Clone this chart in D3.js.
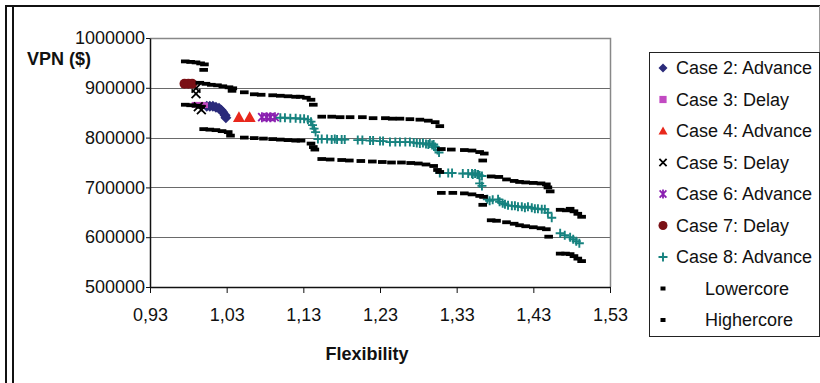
<!DOCTYPE html>
<html>
<head>
<meta charset="utf-8">
<script src="https://cdn.jsdelivr.net/npm/d3@7"></script>
<style>
  body { margin: 0; background: #fff; }
  svg { display: block; font-family: "Liberation Sans", Arial, sans-serif; }
</style>
</head>
<body>
<svg id="chart" width="820" height="383"></svg>
<script>
// values: [flexibility, VPN]
const case2 = [[1.004, 863000], [1.008, 863000], [1.012, 863000], [1.016, 861000], [1.020, 859000], [1.023, 855000], [1.025, 851000], [1.028, 845000], [1.029, 840000]];
const case3 = [[0.988, 866000], [0.993, 866000], [0.998, 866000], [1.002, 865000]];
const case4 = [[1.046, 841000], [1.060, 841000]];
const case5 = [[0.990, 899000], [0.990, 888000], [0.993, 862000], [0.997, 856000]];
const case6 = [[1.076, 841000], [1.082, 841000], [1.087, 841000], [1.093, 841000]];
const case7 = [[0.975, 908000], [0.980, 908000], [0.985, 908000]];
const case8 = [
  [1.100, 840000], [1.106, 840000], [1.113, 839000], [1.120, 839000], [1.126, 838000], [1.131, 838000], [1.136, 836000],
  [1.140, 832000], [1.142, 825000], [1.144, 818000], [1.146, 811000],
  [1.149, 797000], [1.154, 797000], [1.161, 797000], [1.167, 796000], [1.171, 797000], [1.174, 796000], [1.180, 796000], [1.184, 796000],
  [1.201, 795000], [1.207, 795000], [1.217, 794000], [1.221, 794000], [1.230, 793000], [1.234, 793000],
  [1.243, 791000], [1.250, 791000], [1.256, 791000], [1.263, 791000], [1.269, 791000],
  [1.274, 790000], [1.278, 789000], [1.282, 788000], [1.286, 789000], [1.290, 787000], [1.293, 786000], [1.295, 788000], [1.298, 785000], [1.300, 786000],
  [1.302, 781000], [1.305, 775000], [1.307, 770000],
  [1.308, 729000], [1.319, 729000], [1.324, 729000], [1.338, 728000], [1.345, 728000], [1.350, 728000], [1.351, 726000],
  [1.354, 728000], [1.357, 726000], [1.358, 726000], [1.360, 724000], [1.363, 723000], [1.360, 708000], [1.363, 703000],
  [1.370, 676000], [1.373, 673000], [1.377, 675000], [1.384, 676000], [1.386, 671000], [1.390, 668000], [1.393, 666000],
  [1.397, 664000], [1.402, 663000], [1.406, 663000], [1.410, 661000], [1.415, 661000], [1.419, 659000], [1.423, 661000],
  [1.428, 659000], [1.432, 657000], [1.436, 657000], [1.441, 656000], [1.445, 656000], [1.449, 649000], [1.454, 639000],
  [1.465, 608000], [1.471, 604000], [1.478, 600000], [1.482, 596000], [1.486, 592000], [1.490, 588000]
];
const lowercore = [
  [0.976, 866000], [0.983, 865000], [0.990, 864000], [0.996, 862000],
  [1.000, 817000], [1.008, 816000], [1.016, 815000], [1.024, 813000], [1.032, 811000], [1.035, 804000],
  [1.053, 800000], [1.066, 799000], [1.078, 798000], [1.090, 797000], [1.100, 796000], [1.110, 795000], [1.120, 794000], [1.127, 794000],
  [1.140, 788000], [1.143, 781000], [1.145, 776000],
  [1.154, 757000], [1.165, 756000], [1.180, 755000], [1.190, 754000], [1.205, 753000], [1.220, 752000],
  [1.233, 751000], [1.245, 750000], [1.258, 750000], [1.270, 749000], [1.280, 748000], [1.290, 746000], [1.300, 743000],
  [1.305, 735000], [1.308, 731000],
  [1.310, 689000], [1.325, 689000], [1.340, 688000], [1.350, 686000], [1.360, 683000], [1.365, 681000], [1.364, 665000],
  [1.375, 634000], [1.382, 633000], [1.395, 630000], [1.405, 627000], [1.412, 624000], [1.420, 622000], [1.430, 620000],
  [1.440, 618000], [1.447, 616000], [1.450, 601000],
  [1.465, 567000], [1.472, 567000], [1.478, 566000], [1.483, 562000], [1.488, 557000], [1.493, 552000]
];
const highercore = [
  [0.976, 953000], [0.983, 952000], [0.990, 951000], [0.996, 949000], [1.001, 947000], [1.000, 936000],
  [0.995, 910000], [1.003, 908000], [1.010, 906000], [1.018, 905000], [1.025, 903000], [1.033, 901000], [1.038, 899000], [1.037, 894000],
  [1.053, 891000], [1.066, 887000], [1.075, 886000], [1.090, 885000], [1.100, 884000], [1.110, 883000], [1.120, 882000],
  [1.126, 882000], [1.134, 880000], [1.140, 876000], [1.143, 866000],
  [1.154, 842000], [1.167, 842000], [1.178, 841000], [1.191, 841000], [1.207, 841000], [1.221, 839000], [1.237, 839000],
  [1.246, 838000], [1.256, 838000], [1.269, 837000], [1.282, 836000], [1.293, 834000], [1.302, 831000], [1.308, 823000],
  [1.310, 777000], [1.323, 776000], [1.340, 775000], [1.350, 774000], [1.360, 771000], [1.366, 768000], [1.364, 754000],
  [1.375, 722000], [1.385, 721000], [1.395, 716000], [1.405, 713000], [1.412, 711000], [1.420, 710000], [1.430, 709000],
  [1.440, 708000], [1.447, 706000], [1.449, 700000], [1.452, 692000],
  [1.465, 655000], [1.473, 654000], [1.478, 657000], [1.483, 652000], [1.488, 647000], [1.493, 641000]
];

const xTicks = [0.93, 1.03, 1.13, 1.23, 1.33, 1.43, 1.53];
const yTicks = [500000, 600000, 700000, 800000, 900000, 1000000];
const legendLabels = ["Case 2: Advance", "Case 3: Delay", "Case 4: Advance", "Case 5: Delay",
  "Case 6: Advance", "Case 7: Delay", "Case 8: Advance", "Lowercore", "Highercore"];

const svg = d3.select("#chart");
const plotLeft = 150, plotRight = 610, plotTop = 38, plotBottom = 287;

const x = d3.scaleLinear().domain([0.93, 1.53]).range([plotLeft, plotRight]);
const y = d3.scaleLinear().domain([500000, 1000000]).range([plotBottom, plotTop]);

const commaLocale = d3.formatLocale({ decimal: ",", thousands: ".", grouping: [3], currency: ["", "$"] });
const fmtX = commaLocale.format(".2f");

// outer frame
svg.append("line").attr("x1", 5).attr("x2", 820).attr("y1", 6).attr("y2", 6).attr("stroke", "#111").attr("stroke-width", 2);
svg.append("line").attr("x1", 6).attr("x2", 6).attr("y1", 6).attr("y2", 383).attr("stroke", "#111").attr("stroke-width", 2);
svg.append("line").attr("x1", 13).attr("x2", 13).attr("y1", 7).attr("y2", 383).attr("stroke", "#111").attr("stroke-width", 2);
svg.append("line").attr("x1", 819.5).attr("x2", 819.5).attr("y1", 6).attr("y2", 337).attr("stroke", "#999").attr("stroke-width", 1);

// gridlines
svg.append("g").selectAll("line")
  .data(yTicks.filter(d => d > 500000 && d < 1000000))
  .join("line")
  .attr("x1", plotLeft).attr("x2", plotRight)
  .attr("y1", d => Math.round(y(d)) + 0.5).attr("y2", d => Math.round(y(d)) + 0.5)
  .attr("stroke", "#6a6a6a").attr("stroke-width", 1);

// plot border (top, right)
svg.append("path")
  .attr("d", `M${plotLeft},${plotTop + 0.5}H${plotRight + 0.5}V${plotBottom}`)
  .attr("fill", "none").attr("stroke", "#888").attr("stroke-width", 1.5);

// axes
const yAxis = svg.append("g").attr("transform", `translate(${plotLeft},0)`)
  .call(d3.axisLeft(y).tickValues(yTicks).tickFormat(d3.format("d")).tickSize(4).tickSizeOuter(0).tickPadding(1));
const xAxis = svg.append("g").attr("transform", `translate(0,${plotBottom})`)
  .call(d3.axisBottom(x).tickValues(xTicks).tickFormat(fmtX).tickSize(6).tickSizeOuter(0).tickPadding(15));
[yAxis, xAxis].forEach(g => {
  g.selectAll("text").attr("font-size", 18).attr("fill", "#111").attr("font-family", "Liberation Sans, Arial, sans-serif");
  g.selectAll("line").attr("stroke", "#111");
  g.select(".domain").attr("stroke", "#111").attr("stroke-width", 1.5);
});

svg.append("text").attr("x", 27).attr("y", 65).attr("font-size", 18).attr("font-weight", "bold")
  .attr("fill", "#111").text("VPN ($)");
svg.append("text").attr("x", 367).attr("y", 360).attr("font-size", 18).attr("font-weight", "bold")
  .attr("text-anchor", "middle").attr("fill", "#111").text("Flexibility");

// marker drawing
function marker(g, type, s) {
  const h = s / 2;
  if (type === "diamond") {
    g.append("path").attr("d", `M0,${-h}L${h},0L0,${h}L${-h},0Z`).attr("fill", "#2B2B7A");
  } else if (type === "square") {
    g.append("rect").attr("x", -h * 0.8).attr("y", -h * 0.8).attr("width", s * 0.8).attr("height", s * 0.8).attr("fill", "#C24AC2");
  } else if (type === "triangle") {
    g.append("path").attr("d", `M0,${-h}L${h},${h * 0.8}L${-h},${h * 0.8}Z`).attr("fill", "#E8281C");
  } else if (type === "times") {
    g.append("path").attr("d", `M${-h * 0.8},${-h * 0.8}L${h * 0.8},${h * 0.8}M${h * 0.8},${-h * 0.8}L${-h * 0.8},${h * 0.8}`)
      .attr("stroke", "#000").attr("stroke-width", 1.8);
  } else if (type === "asterisk") {
    g.append("path").attr("d", `M${-h * 0.75},${-h * 0.8}L${h * 0.75},${h * 0.8}M${h * 0.75},${-h * 0.8}L${-h * 0.75},${h * 0.8}M0,${-h}V${h}`)
      .attr("stroke", "#8A1FB0").attr("stroke-width", 1.8);
  } else if (type === "circle") {
    g.append("circle").attr("r", h).attr("fill", "#7A1015");
  } else if (type === "plus") {
    g.append("path").attr("d", `M${-h},0H${h}M0,${-h}V${h}`).attr("stroke", "#16827F").attr("stroke-width", 1.9);
  } else if (type === "dash") {
    g.append("rect").attr("x", -4.3).attr("y", -1.9).attr("width", 8.6).attr("height", 3.8).attr("fill", "#000");
  }
}

const series = [
  { data: case2, type: "diamond", size: 11 },
  { data: case3, type: "square", size: 7 },
  { data: case4, type: "triangle", size: 12 },
  { data: case5, type: "times", size: 11 },
  { data: case6, type: "asterisk", size: 10 },
  { data: case7, type: "circle", size: 10 },
  { data: case8, type: "plus", size: 9 },
  { data: lowercore, type: "dash", size: 8 },
  { data: highercore, type: "dash", size: 8 }
];

const plot = svg.append("g");
series.forEach(s => {
  plot.append("g").selectAll("g")
    .data(s.data)
    .join("g")
    .attr("transform", d => `translate(${x(d[0])},${y(d[1])})`)
    .each(function () { marker(d3.select(this), s.type, s.size); });
});

// legend
const legend = svg.append("g");
legend.append("rect").attr("x", 649.5).attr("y", 52.5).attr("width", 170).attr("height", 284)
  .attr("fill", "#fff").attr("stroke", "#222").attr("stroke-width", 1);
const legendY = d3.scalePoint().domain(legendLabels).range([68, 320]);
legendLabels.forEach((label, i) => {
  const cy = legendY(label);
  const m = legend.append("g").attr("transform", `translate(663,${cy})`);
  marker(m, series[i].type, 9);
  if (series[i].type === "dash") m.select("rect").attr("x", -2.5).attr("width", 5).attr("y", -2).attr("height", 4);
  legend.append("text")
    .attr("x", series[i].type === "dash" ? 705 : 676)
    .attr("y", cy + 6.3)
    .attr("font-size", 18).attr("fill", "#111")
    .text(label);
});
</script>
</body>
</html>
